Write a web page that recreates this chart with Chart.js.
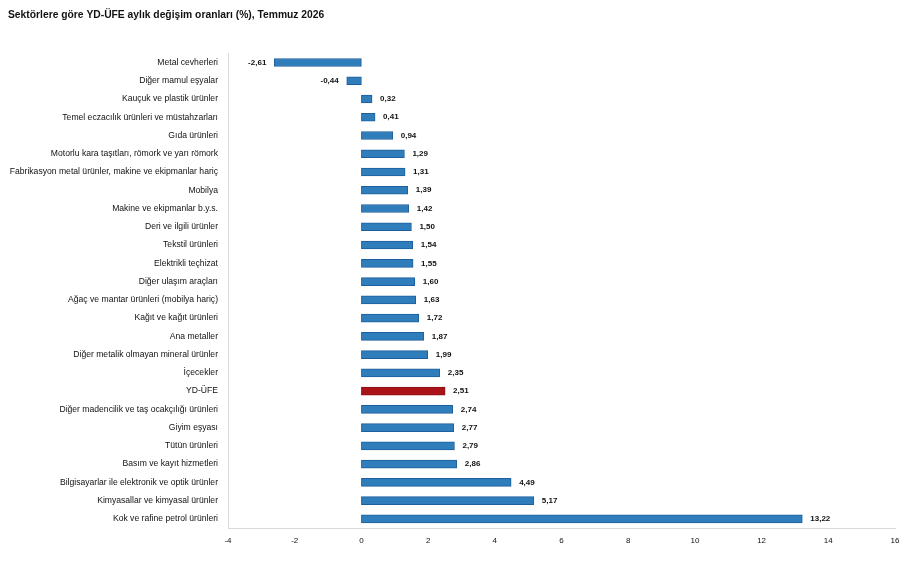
<!DOCTYPE html>
<html>
<head>
<meta charset="utf-8">
<script src="https://cdn.jsdelivr.net/npm/chart.js@4"></script>
<style>
html,body{margin:0;padding:0;background:#fff;}
#wrap{width:913px;height:562px;position:relative;}
</style>
</head>
<body>
<div id="wrap"><canvas id="c" width="913" height="562"></canvas></div>
<script>
const categories = [
  "Metal cevherleri",
  "Diğer mamul eşyalar",
  "Kauçuk ve plastik ürünler",
  "Temel eczacılık ürünleri ve müstahzarları",
  "Gıda ürünleri",
  "Motorlu kara taşıtları, römork ve yarı römork",
  "Fabrikasyon metal ürünler, makine ve ekipmanlar hariç",
  "Mobilya",
  "Makine ve ekipmanlar b.y.s.",
  "Deri ve ilgili ürünler",
  "Tekstil ürünleri",
  "Elektrikli teçhizat",
  "Diğer ulaşım araçları",
  "Ağaç ve mantar ürünleri (mobilya hariç)",
  "Kağıt ve kağıt ürünleri",
  "Ana metaller",
  "Diğer metalik olmayan mineral ürünler",
  "İçecekler",
  "YD-ÜFE",
  "Diğer madencilik ve taş ocakçılığı ürünleri",
  "Giyim eşyası",
  "Tütün ürünleri",
  "Basım ve kayıt hizmetleri",
  "Bilgisayarlar ile elektronik ve optik ürünler",
  "Kimyasallar ve kimyasal ürünler",
  "Kok ve rafine petrol ürünleri"
];
const values = [-2.61, -0.44, 0.32, 0.41, 0.94, 1.29, 1.31, 1.39, 1.42, 1.50, 1.54, 1.55, 1.60, 1.63, 1.72, 1.87, 1.99, 2.35, 2.51, 2.74, 2.77, 2.79, 2.86, 4.49, 5.17, 13.22];
const highlight = "YD-ÜFE";
const xTicks = [-4, -2, 0, 2, 4, 6, 8, 10, 12, 14, 16];
const titleText = "Sektörlere göre YD-ÜFE aylık değişim oranları (%), Temmuz 2026";

const blue = "#2f7dbb", blueBorder = "#1d5f9c";
const red = "#aa1418", redBorder = "#8a0e12";

const valueLabels = {
  id: 'valueLabels',
  afterDatasetsDraw(chart) {
    const ctx = chart.ctx;
    const meta = chart.getDatasetMeta(0);
    const xs = chart.scales.x;
    ctx.save();
    ctx.font = "bold 8px 'Liberation Sans', Arial, sans-serif";
    ctx.fillStyle = "#111";
    ctx.textBaseline = "middle";
    meta.data.forEach((bar, i) => {
      const v = values[i];
      const txt = v.toFixed(2).replace('.', ',');
      const xe = xs.getPixelForValue(v);
      if (v < 0) { ctx.textAlign = "right"; ctx.fillText(txt, xe - 8, bar.y); }
      else { ctx.textAlign = "left"; ctx.fillText(txt, xe + 8, bar.y); }
    });
    ctx.restore();
  }
};

new Chart(document.getElementById('c'), {
  type: 'bar',
  data: {
    labels: categories,
    datasets: [{
      data: values,
      backgroundColor: categories.map(c => c === highlight ? red : blue),
      borderColor: categories.map(c => c === highlight ? redBorder : blueBorder),
      borderWidth: 1,
      borderSkipped: false,
      barThickness: 8
    }]
  },
  options: {
    indexAxis: 'y',
    responsive: false,
    animation: false,
    devicePixelRatio: 1,
    layout: { padding: { left: 8, right: 18, top: 0, bottom: 0 } },
    plugins: {
      legend: { display: false },
      tooltip: { enabled: false },
      title: {
        display: true,
        text: titleText,
        align: 'start',
        color: '#111',
        font: { family: "'Liberation Sans', Arial, sans-serif", size: 10.3, weight: 'bold' },
        padding: { top: 9, bottom: 32 }
      }
    },
    scales: {
      x: {
        min: -4, max: 16,
        afterBuildTicks(scale) { scale.ticks = xTicks.map(v => ({ value: v })); },
        grid: { display: false, drawTicks: false },
        border: { display: true, color: '#d9d9d9', width: 1 },
        ticks: {
          padding: 8,
          color: '#111',
          font: { family: "'Liberation Sans', Arial, sans-serif", size: 8 },
          callback: v => String(v)
        },
        afterFit(scale) { scale.height = 34; }
      },
      y: {
        grid: { display: false, drawTicks: false },
        border: { display: true, color: '#d9d9d9', width: 1 },
        ticks: {
          padding: 10,
          color: '#111',
          autoSkip: false,
          font: { family: "'Liberation Sans', Arial, sans-serif", size: 8.6 }
        },
        afterFit(scale) { scale.width = 220; }
      }
    }
  },
  plugins: [valueLabels]
});
</script>
</body>
</html>
